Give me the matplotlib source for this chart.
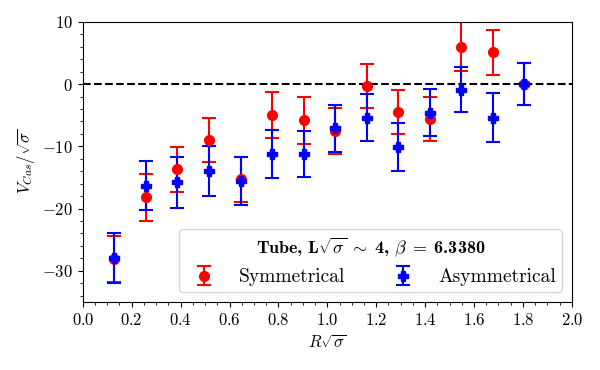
import matplotlib
matplotlib.use('Agg')
import matplotlib.pyplot as plt
from matplotlib.ticker import MultipleLocator

plt.close('all')
plt.rcParams['font.family'] = 'serif'
plt.rcParams['font.serif'] = ['cmr10']
plt.rcParams['mathtext.fontset'] = 'cm'
plt.rcParams['axes.formatter.use_mathtext'] = True
plt.rcParams['font.size'] = 12

# R*sqrt(sigma) positions
r_sigma = [0.129, 0.258, 0.387, 0.516, 0.645, 0.774, 0.903,
           1.032, 1.161, 1.290, 1.419, 1.548, 1.677, 1.806]

# Symmetrical
v_sym = [-28.1, -18.2, -13.7, -9.0, -15.3, -4.9, -5.8,
         -7.5, -0.3, -4.5, -5.6, 6.0, 5.1, 0.0]
err_sym = [3.7, 3.8, 3.6, 3.6, 3.6, 3.7, 3.8,
           3.7, 3.6, 3.6, 3.6, 3.9, 3.6, 3.4]

# Asymmetrical
v_asym = [-27.9, -16.3, -15.8, -14.0, -15.6, -11.2, -11.2,
          -7.1, -5.4, -10.1, -4.6, -0.9, -5.4, 0.0]
err_asym = [4.0, 3.9, 4.1, 4.0, 3.9, 3.9, 3.7,
            3.8, 3.75, 3.9, 3.75, 3.6, 3.9, 3.4]

fig = plt.figure(figsize=(6, 3.7), dpi=100)
ax = fig.add_axes([0.138, 0.184, 0.815, 0.757])

ax.axhline(0, color='black', linestyle='--', linewidth=1.5, zorder=1)

ax.errorbar(r_sigma, v_sym, yerr=err_sym, fmt='o', color='red', markersize=7,
            capsize=5, elinewidth=1.5, capthick=1.5, label='Symmetrical')
ax.errorbar(r_sigma, v_asym, yerr=err_asym, fmt='P', color='blue', markersize=7,
            capsize=5, elinewidth=1.5, capthick=1.5, label='Asymmetrical')

ax.set_xlim(0, 2.0)
ax.set_ylim(-35, 10)
ax.xaxis.set_major_locator(MultipleLocator(0.2))
ax.xaxis.set_minor_locator(MultipleLocator(0.05))
ax.yaxis.set_major_locator(MultipleLocator(10))
ax.yaxis.set_minor_locator(MultipleLocator(2))

ax.set_xlabel(r'$R\sqrt{\sigma}$')
ax.set_ylabel(r'$V_{Cas}/\sqrt{\sigma}$')

# bold text parts in cmb10, math parts in cm
title = r'Tube, L$\sqrt{\sigma}\;\sim\;$4, $\beta\;=\;$6.3380'
leg = ax.legend(loc='lower right', ncol=2, fontsize=14, title=title,
                title_fontsize=13, borderaxespad=0.5, borderpad=0.3)
leg.get_title().set_family('cmb10')

fig.savefig('out.png', dpi=100)
